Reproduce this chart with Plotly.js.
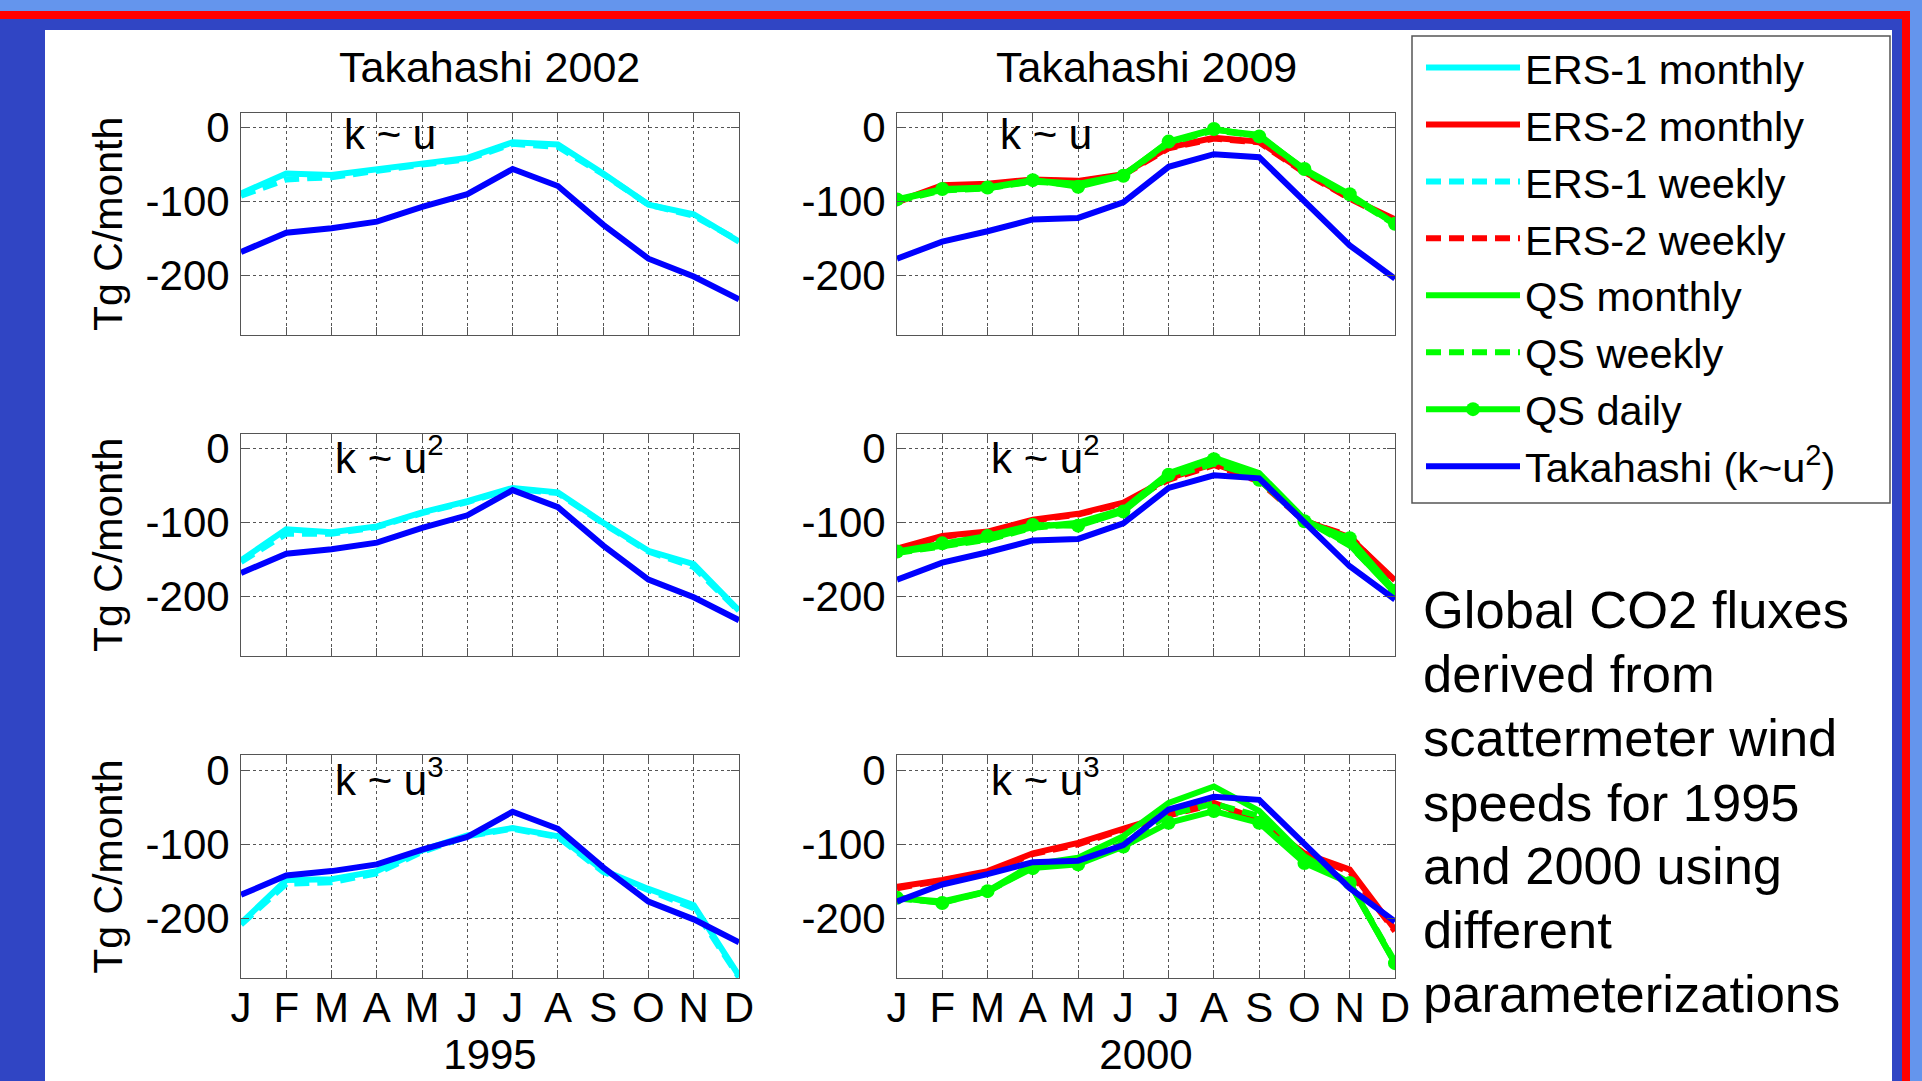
<!DOCTYPE html>
<html>
<head>
<meta charset="utf-8">
<script src="https://cdn.plot.ly/plotly-3.0.1.min.js"></script>
<style>
html,body{margin:0;padding:0;overflow:hidden;background:#fff}
#chart{width:1922px;height:1081px}
</style>
</head>
<body>
<div id="chart"></div>
<script>
// ---------- data ----------
const monthNums = [1,2,3,4,5,6,7,8,9,10,11,12];
const monthLabels = ['J','F','M','A','M','J','J','A','S','O','N','D'];
const yTickVals = [0,-100,-200];
const yTickText = ['0','-100','-200'];

// Takahashi climatology (k~u^2), Tg C/month
const takahashi1995 = [-168,-142,-136,-127,-107,-90,-56,-79,-131,-177,-201,-232];
const takahashi2000 = [-177,-154,-140,-124,-122,-101,-53,-36,-40,-99,-159,-204];

// 1995 (Takahashi 2002) - ERS-1
const ers1Monthly_u  = [-89,-62,-64,-56,-48,-41,-20,-23,-62,-104,-117,-154];
const ers1Weekly_u   = [-92,-70,-67,-58,-50,-43,-22,-26,-63,-104,-119,-153];
const ers1Monthly_u2 = [-151,-109,-113,-105,-86,-71,-53,-59,-100,-138,-156,-219];
const ers1Weekly_u2  = [-153,-115,-115,-106,-87,-72,-54,-60,-101,-139,-160,-220];
const ers1Monthly_u3 = [-206,-148,-147,-136,-108,-88,-78,-89,-135,-160,-182,-277];
const ers1Weekly_u3  = [-208,-153,-151,-139,-110,-89,-79,-90,-137,-162,-186,-279];

// 2000 (Takahashi 2009) - ERS-2
const ers2Monthly_u  = [-100,-78,-76,-70,-72,-63,-27,-14,-19,-60,-95,-124];
const ers2Weekly_u   = [-101,-79,-77,-71,-73,-64,-28,-15,-20,-61,-96,-126];
const ers2Monthly_u2 = [-135,-118,-112,-96,-88,-73,-40,-20,-42,-97,-120,-178];
const ers2Weekly_u2  = [-136,-119,-113,-97,-89,-74,-42,-22,-44,-98,-118,-182];
const ers2Monthly_u3 = [-157,-148,-136,-112,-98,-79,-60,-44,-67,-112,-134,-215];
const ers2Weekly_u3  = [-159,-149,-138,-113,-100,-80,-61,-46,-68,-113,-137,-217];

// 2000 (Takahashi 2009) - QuikSCAT
const qsMonthly_u  = [-98,-84,-82,-72,-76,-64,-20,-3,-10,-57,-92,-130];
const qsWeekly_u   = [-99,-85,-82,-73,-77,-65,-21,-4,-11,-58,-93,-131];
const qsDaily_u    = [-97,-83,-81,-71,-80,-65,-19,-2,-12,-56,-90,-130];
const qsMonthly_u2 = [-140,-132,-122,-106,-100,-82,-33,-12,-33,-95,-130,-195];
const qsWeekly_u2  = [-141,-133,-123,-107,-101,-83,-38,-20,-38,-96,-131,-194];
const qsDaily_u2   = [-139,-128,-118,-103,-104,-85,-35,-14,-42,-98,-121,-192];
const qsMonthly_u3 = [-172,-177,-163,-127,-118,-89,-44,-22,-55,-116,-152,-260];
const qsWeekly_u3  = [-173,-178,-164,-130,-125,-98,-60,-45,-62,-120,-152,-258];
const qsDaily_u3   = [-172,-179,-163,-132,-127,-103,-71,-55,-71,-125,-152,-260];

const panelLabels = ['k ~ u','k ~ u<sup>2</sup>','k ~ u<sup>3</sup>'];
const columnTitles = ['Takahashi 2002','Takahashi 2009'];
const yearLabels = ['1995','2000'];
const noteLines = ['Global CO2 fluxes','derived from','scattermeter wind','speeds for 1995','and 2000 using','different','parameterizations'];

// ---------- styles ----------
const FONT = 'Liberation Sans, Arial, Helvetica, sans-serif';
const W = 1922, H = 1081;
const C = {cyan:'#00FFFF', red:'#FF0000', green:'#00FF00', blue:'#0000FF'};
const LW = 6;
const DASH = '15px,8px';

const series = {
  'ERS-1 monthly': {color:C.cyan, dash:'solid', rank:1},
  'ERS-2 monthly': {color:C.red, dash:'solid', rank:2},
  'ERS-1 weekly': {color:C.cyan, dash:DASH, rank:3},
  'ERS-2 weekly': {color:C.red, dash:DASH, rank:4},
  'QS monthly': {color:C.green, dash:'solid', rank:5},
  'QS weekly': {color:C.green, dash:DASH, rank:6},
  'QS daily': {color:C.green, dash:'solid', rank:7, markers:true},
  'Takahashi (k~u<sup>2</sup>)': {color:C.blue, dash:'solid', rank:8}
};

const seen = {};
const traces = [];
function addTrace(name, yvals, axIdx){
  const s = series[name];
  const suffix = axIdx === 1 ? '' : String(axIdx);
  const t = {
    type:'scatter', x:monthNums, y:yvals, name:name,
    xaxis:'x'+suffix, yaxis:'y'+suffix,
    mode: s.markers ? 'lines+markers' : 'lines',
    line:{color:s.color, width:LW, dash:s.dash},
    legendgroup:name, legendrank:s.rank,
    showlegend: !seen[name], hoverinfo:'skip'
  };
  if (s.markers) t.marker = {color:s.color, size:14, symbol:'circle'};
  seen[name] = true;
  traces.push(t);
}

const leftData = [[ers1Monthly_u, ers1Weekly_u],[ers1Monthly_u2, ers1Weekly_u2],[ers1Monthly_u3, ers1Weekly_u3]];
const rightData = [
  [ers2Monthly_u, ers2Weekly_u, qsWeekly_u, qsMonthly_u, qsDaily_u],
  [ers2Monthly_u2, ers2Weekly_u2, qsWeekly_u2, qsMonthly_u2, qsDaily_u2],
  [ers2Monthly_u3, ers2Weekly_u3, qsWeekly_u3, qsMonthly_u3, qsDaily_u3]
];
for (let r=0; r<3; r++){
  const la = 2*r+1, ra = 2*r+2;
  addTrace('ERS-1 weekly', leftData[r][1], la);
  addTrace('ERS-1 monthly', leftData[r][0], la);
  addTrace('Takahashi (k~u<sup>2</sup>)', takahashi1995, la);
  addTrace('ERS-2 weekly', rightData[r][1], ra);
  addTrace('ERS-2 monthly', rightData[r][0], ra);
  addTrace('QS weekly', rightData[r][2], ra);
  addTrace('QS monthly', rightData[r][3], ra);
  addTrace('QS daily', rightData[r][4], ra);
  addTrace('Takahashi (k~u<sup>2</sup>)', takahashi2000, ra);
}

// ---------- layout ----------
const colX = [[241/W, 739/W],[897/W, 1395/W]];
const rowY = [[1-335/H, 1-112.7/H],[1-655.7/H, 1-434/H],[1-978/H, 1-755.3/H]];

const layout = {
  width:W, height:H,
  margin:{l:0,r:0,t:0,b:0,pad:0},
  paper_bgcolor:'#6495ED', plot_bgcolor:'rgba(0,0,0,0)',
  font:{family:FONT, size:42, color:'#000'},
  showlegend:true,
  legend:{
    x:1421/W, y:1-34/H, xanchor:'left', yanchor:'top',
    bgcolor:'rgba(0,0,0,0)', borderwidth:0,
    font:{family:FONT, size:41.5, color:'#000'},
    itemwidth:94, tracegroupgap:0, traceorder:'normal'
  },
  shapes:[
    {type:'rect', xref:'paper', yref:'paper', x0:0, x1:1910/W, y0:0, y1:1-11/H, fillcolor:'#FF0000', line:{width:0}, layer:'below'},
    {type:'rect', xref:'paper', yref:'paper', x0:0, x1:1902/W, y0:0, y1:1-19/H, fillcolor:'#3045C4', line:{width:0}, layer:'below'},
    {type:'rect', xref:'paper', yref:'paper', x0:45/W, x1:1892/W, y0:0, y1:1-30/H, fillcolor:'#FFFFFF', line:{width:0}, layer:'below'},
    {type:'rect', xref:'paper', yref:'paper', x0:1412/W, x1:1890/W, y0:1-503/H, y1:1-36/H, fillcolor:'#FFFFFF', line:{width:1.5, color:'#555'}, layer:'below'}
  ],
  annotations:[]
};

function axBase(){
  return {
    showline:true, mirror:'ticks', linecolor:'#555', linewidth:1,
    ticks:'inside', ticklen:8, tickcolor:'#555', tickwidth:1,
    showgrid:true, gridcolor:'#555', griddash:'dot', gridwidth:1,
    zeroline:false, fixedrange:true,
    tickfont:{family:FONT, size:42, color:'#000'}
  };
}

for (let r=0; r<3; r++){
  for (let c=0; c<2; c++){
    const idx = 2*r + c + 1;
    const suffix = idx === 1 ? '' : String(idx);
    const xa = Object.assign(axBase(), {
      domain:colX[c], range:[1,12], anchor:'y'+suffix,
      tickmode:'array', tickvals:monthNums, ticktext:monthLabels,
      showticklabels: r === 2, ticklabelstandoff: r === 2 ? -7 : 0
    });
    if (r === 2) xa.title = {text:yearLabels[c], font:{family:FONT, size:42, color:'#000'}, standoff:0};
    const ya = Object.assign(axBase(), {
      domain:rowY[r], range:[-280,20], anchor:'x'+suffix,
      tickmode:'array', tickvals:yTickVals, ticktext:yTickText,
      ticklabelstandoff:2
    });
    if (c === 0) ya.title = {text:'Tg C/month', font:{family:FONT, size:41, color:'#000'}, standoff:10};
    layout['xaxis'+suffix] = xa;
    layout['yaxis'+suffix] = ya;
    layout.annotations.push({
      xref:'x'+suffix, yref:'y'+suffix, x:4.29, y:-9, text:panelLabels[r],
      showarrow:false, xanchor:'center', yanchor:'middle',
      font:{family:FONT, size:42, color:'#000'}
    });
  }
}

columnTitles.forEach((t,c)=>{
  layout.annotations.push({
    xref:'paper', yref:'paper', x:(colX[c][0]+colX[c][1])/2, y:1-67/H,
    text:t, showarrow:false, xanchor:'center', yanchor:'middle',
    font:{family:FONT, size:43, color:'#000'}
  });
});

const noteY = [609,673,737,802,865,929,993];
noteLines.forEach((t,i)=>{
  layout.annotations.push({
    xref:'paper', yref:'paper', x:1421/W, y:1-noteY[i]/H,
    text:t, showarrow:false, xanchor:'left', yanchor:'middle', align:'left',
    font:{family:FONT, size:52.5, color:'#000'}
  });
});

Plotly.newPlot('chart', traces, layout, {displayModeBar:false, staticPlot:true});
</script>
</body>
</html>
